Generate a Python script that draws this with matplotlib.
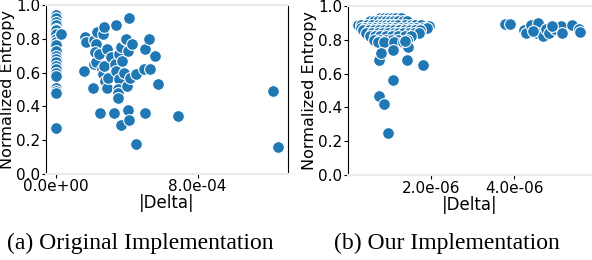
import matplotlib.pyplot as plt
from matplotlib.ticker import FormatStrFormatter

# (a) 원래 구현: |Delta| 와 정규화 엔트로피
a_delta = [0, 0, 0, 0, 0, 0, 0, 0, 0, 0, 0, 0, 0, 0, 0, 0, 0, 0, 0, 0, 0, 0, 0.25e-4,
           1.55e-4, 1.63e-4, 1.66e-4, 2.1e-4, 2.16e-4, 2.25e-4, 2.21e-4, 2.14e-4, 2.27e-4,
           2.33e-4, 2.46e-4, 2.63e-4, 2.69e-4, 2.42e-4, 2.57e-4, 2.67e-4, 2.76e-4, 2.89e-4,
           2.93e-4, 2.72e-4, 2.87e-4, 3.12e-4, 3.25e-4, 3.31e-4, 3.4e-4, 3.4e-4, 3.53e-4,
           3.5e-4, 3.49e-4, 3.49e-4, 3.56e-4, 3.64e-4, 3.74e-4, 3.82e-4, 3.88e-4, 3.97e-4,
           3.69e-4, 4.07e-4, 4.12e-4, 4.12e-4, 4.02e-4, 4.06e-4, 4.16e-4, 4.31e-4, 4.5e-4,
           4.54e-4, 5.01e-4, 5.05e-4, 4.97e-4, 5.24e-4, 5.29e-4, 5.61e-4, 5.78e-4, 6.9e-4,
           1.229e-3, 1.254e-3]
a_entropy = [0.94, 0.92, 0.90, 0.88, 0.86, 0.85, 0.83, 0.80, 0.78, 0.76, 0.73, 0.70, 0.68,
             0.66, 0.64, 0.62, 0.60, 0.58, 0.51, 0.49, 0.48, 0.27, 0.83,
             0.61, 0.81, 0.78, 0.51, 0.79, 0.77, 0.72, 0.65, 0.66,
             0.84, 0.36, 0.83, 0.87, 0.71, 0.62, 0.59, 0.55, 0.51,
             0.57, 0.64, 0.74, 0.69, 0.36, 0.65, 0.88, 0.61, 0.56,
             0.50, 0.48, 0.45, 0.71, 0.75, 0.67, 0.60, 0.80, 0.80,
             0.29, 0.38, 0.32, 0.92, 0.52, 0.73, 0.57, 0.77, 0.18,
             0.59, 0.36, 0.74, 0.62, 0.80, 0.62, 0.70, 0.53, 0.34,
             0.49, 0.16]

# (b) 우리 구현
b_delta = [0.75, 0.85, 0.95, 1.05, 1.15, 1.25,
           0.5, 0.6, 0.7, 0.8, 0.9, 1.0, 1.1, 1.2, 1.3, 1.4,
           0.22, 0.3, 0.45, 0.55, 0.7, 0.8, 0.9, 1.0, 1.1, 1.2, 1.35, 1.5, 1.6, 1.75, 1.95,
           0.3, 0.4, 0.5, 0.62, 0.75, 0.88, 1.0, 1.12, 1.25, 1.38, 1.5, 1.62, 1.8, 1.9,
           0.35, 0.48, 0.6, 0.72, 0.85, 0.98, 1.1, 1.22, 1.35, 1.48, 1.6, 1.72,
           0.42, 0.55, 0.7, 0.82, 0.95, 1.08, 1.2, 1.32, 1.45, 1.58, 1.7,
           0.5, 0.62, 0.75, 0.9, 1.05, 1.2, 1.35, 1.5,
           0.6, 0.75, 0.9, 1.05, 1.2, 1.4,
           0.7, 0.85, 1.1, 1.3,
           0.72, 0.78, 0.72, 0.84, 0.94, 1.07, 1.06, 1.40, 1.44, 1.79, 1.36,
           3.77, 3.91, 4.24, 4.28, 4.40, 4.57, 4.55, 4.69, 4.77, 4.84, 5.0, 5.13,
           5.17, 5.4, 5.57, 5.59, 4.93, 4.45]
b_delta = [d * 1e-6 for d in b_delta]
b_entropy = [0.93, 0.93, 0.93, 0.93, 0.93, 0.93,
             0.91, 0.91, 0.91, 0.91, 0.91, 0.91, 0.91, 0.91, 0.91, 0.91,
             0.89, 0.89, 0.89, 0.89, 0.89, 0.89, 0.89, 0.89, 0.89, 0.89, 0.89, 0.89, 0.89, 0.89, 0.88,
             0.87, 0.87, 0.87, 0.87, 0.87, 0.87, 0.87, 0.87, 0.87, 0.87, 0.87, 0.87, 0.87, 0.87,
             0.855, 0.855, 0.855, 0.855, 0.855, 0.855, 0.855, 0.855, 0.855, 0.855, 0.855, 0.855,
             0.84, 0.84, 0.84, 0.84, 0.84, 0.84, 0.84, 0.84, 0.84, 0.84, 0.84,
             0.82, 0.82, 0.82, 0.82, 0.82, 0.82, 0.82, 0.82,
             0.80, 0.80, 0.80, 0.80, 0.80, 0.80,
             0.785, 0.785, 0.785, 0.785,
             0.68, 0.72, 0.465, 0.42, 0.25, 0.56, 0.74, 0.68, 0.76, 0.65, 0.79,
             0.895, 0.895, 0.857, 0.84, 0.89, 0.897, 0.84, 0.82, 0.865, 0.84, 0.865, 0.88,
             0.84, 0.885, 0.865, 0.845, 0.88, 0.85]

blue = '#1f77b4'
light = '#ebebeb'

fig = plt.figure(figsize=(5.92, 2.6), dpi=100)
ax1 = fig.add_axes([0.078, 0.331, 0.408, 0.650])
ax2 = fig.add_axes([0.588, 0.327, 0.410, 0.650])

ax1.scatter(a_delta, a_entropy, s=72, color=blue, edgecolor='white', linewidth=0.8, zorder=3)
ax2.scatter(b_delta, b_entropy, s=72, color=blue, edgecolor='white', linewidth=0.8, zorder=3)

ax1.set_xlim(-0.57e-4, 1.31e-3)
ax1.set_xticks([0, 8e-4])
ax2.set_xlim(-0.02e-6, 5.86e-6)
ax2.set_xticks([2e-6, 4e-6])

for ax in (ax1, ax2):
    ax.set_ylim(0, 1.0)
    ax.set_yticks([0, 0.2, 0.4, 0.6, 0.8, 1.0])
    ax.yaxis.set_major_formatter(FormatStrFormatter('%.1f'))
    ax.xaxis.set_major_formatter(FormatStrFormatter('%.1e'))
    ax.tick_params(labelsize=11, length=3, width=0.8, pad=1)
    ax.set_xlabel('|Delta|', fontsize=12, labelpad=0)
    ax.set_ylabel('Normalized Entropy', fontsize=11.5, labelpad=1)
    ax.spines['left'].set_color('black')
    ax.spines['top'].set_color(light)
    ax.spines['top'].set_linewidth(1.5)
    ax.spines['bottom'].set_color(light)
    ax.spines['bottom'].set_linewidth(1.5)

ax1.spines['right'].set_color('black')
ax2.spines['right'].set_visible(False)

fig.text(0.237, 0.065, '(a) Original Implementation', fontsize=17,
         family='Liberation Serif', ha='center', va='center')
fig.text(0.755, 0.065, '(b) Our Implementation', fontsize=17,
         family='Liberation Serif', ha='center', va='center')

fig.savefig('out.png', dpi=100)
